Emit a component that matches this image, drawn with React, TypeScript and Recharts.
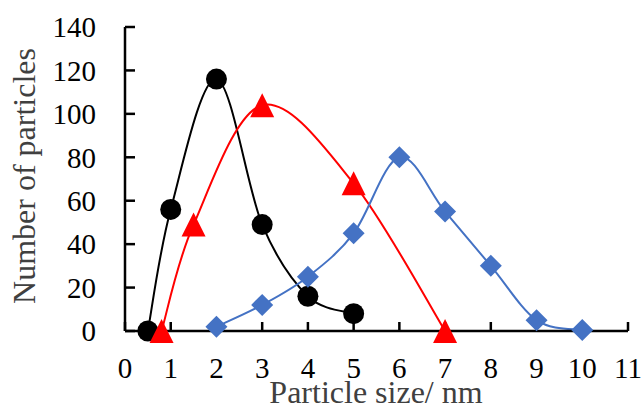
import { LineChart, Line, XAxis, YAxis, Label } from "recharts";

// particle size (nm) / count
const circleX = [0.5, 1, 2, 3, 4, 5];
const circleY = [0, 56, 116, 49, 16, 8];
const triangleX = [0.8, 1.5, 3, 5, 7];
const triangleY = [0, 49, 104, 68, 0];
const diamondX = [2, 3, 4, 5, 6, 7, 8, 9, 10];
const diamondY = [2, 12, 25, 45, 80, 55, 30, 5, 0.5];
const xTicks = [0, 1, 2, 3, 4, 5, 6, 7, 8, 9, 10, 11];
const yTicks = [0, 20, 40, 60, 80, 100, 120, 140];

const zip = (xs: number[], ys: number[]) => xs.map((x, i) => ({ x, y: ys[i] }));
const circles = zip(circleX, circleY);
const triangles = zip(triangleX, triangleY);
const diamonds = zip(diamondX, diamondY);

const FONT = "'Liberation Serif', 'Times New Roman', serif";

// excel-style smoothed line (catmull-rom through the points)
function smoothCurve(ctx: any) {
  let pts: number[][] = [];
  return {
    areaStart() {},
    areaEnd() {},
    lineStart() {
      pts = [];
    },
    lineEnd() {
      const n = pts.length;
      if (!n) return;
      ctx.moveTo(pts[0][0], pts[0][1]);
      for (let i = 0; i < n - 1; i++) {
        const p0 = pts[i - 1] || pts[i];
        const p1 = pts[i];
        const p2 = pts[i + 1];
        const p3 = pts[i + 2] || pts[i + 1];
        ctx.bezierCurveTo(
          p1[0] + (p2[0] - p0[0]) / 6,
          p1[1] + (p2[1] - p0[1]) / 6,
          p2[0] - (p3[0] - p1[0]) / 6,
          p2[1] - (p3[1] - p1[1]) / 6,
          p2[0],
          p2[1]
        );
      }
    },
    point(x: number, y: number) {
      pts.push([+x, +y]);
    },
  };
}

const circleDot = (p: any) => <circle key={p.index} cx={p.cx} cy={p.cy} r={10.5} fill="#000" />;
const triDot = (p: any) => (
  <polygon
    key={p.index}
    points={`${p.cx},${p.cy - 12} ${p.cx + 12},${p.cy + 12} ${p.cx - 12},${p.cy + 12}`}
    fill="#FF0000"
  />
);
const diaDot = (p: any) => (
  <polygon
    key={p.index}
    points={`${p.cx},${p.cy - 11} ${p.cx + 11},${p.cy} ${p.cx},${p.cy + 11} ${p.cx - 11},${p.cy}`}
    fill="#4472C4"
  />
);

export default function App() {
  return (
    <div style={{ position: "absolute", left: 0, top: 0, background: "#fff" }}>
      <LineChart width={641} height={407} margin={{ top: 27, right: 13, left: 0, bottom: 0 }}>
        <XAxis
          type="number"
          dataKey="x"
          domain={[0, 11]}
          ticks={xTicks}
          interval={0}
          height={76}
          axisLine={{ stroke: "#000", strokeWidth: 2.5 }}
          tickLine={{ stroke: "#000", strokeWidth: 2.5 }}
          tickSize={-9}
          tickMargin={35}
          tick={{ fill: "#000", fontSize: 29, fontFamily: FONT }}
          allowDataOverflow
        >
          <Label
            content={() => (
              <text x={376} y={403} textAnchor="middle" fontSize={32} fontFamily={FONT} fill="#404040">
                Particle size/ nm
              </text>
            )}
          />
        </XAxis>
        <YAxis
          type="number"
          domain={[0, 140]}
          ticks={yTicks}
          interval={0}
          width={125}
          axisLine={{ stroke: "#000", strokeWidth: 2.5 }}
          tickLine={{ stroke: "#000", strokeWidth: 2.5 }}
          tickSize={-10}
          tickMargin={39}
          tick={{ fill: "#000", fontSize: 29, fontFamily: FONT }}
        >
          <Label
            content={() => (
              <text
                x={35}
                y={176}
                transform="rotate(-90, 35, 176)"
                textAnchor="middle"
                fontSize={32}
                fontFamily={FONT}
                fill="#404040"
              >
                Number of particles
              </text>
            )}
          />
        </YAxis>
        <Line
          data={circles}
          dataKey="y"
          type={smoothCurve as any}
          stroke="#000"
          strokeWidth={2}
          dot={circleDot}
          activeDot={false}
          isAnimationActive={false}
        />
        <Line
          data={triangles}
          dataKey="y"
          type={smoothCurve as any}
          stroke="#FF0000"
          strokeWidth={2}
          dot={triDot}
          activeDot={false}
          isAnimationActive={false}
        />
        <Line
          data={diamonds}
          dataKey="y"
          type={smoothCurve as any}
          stroke="#4472C4"
          strokeWidth={2}
          dot={diaDot}
          activeDot={false}
          isAnimationActive={false}
        />
      </LineChart>
    </div>
  );
}
